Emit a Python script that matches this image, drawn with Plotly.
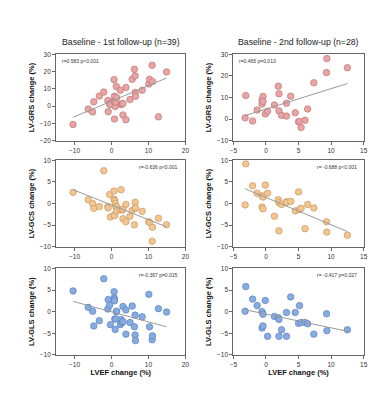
import numpy as np
import plotly.graph_objects as go

# ---------------- data ----------------
lvef_1st = [-10.4, -6.3, -5.1, -4.8, -3.3, -2.1, -1.0, -0.9, -0.5, -0.3,
            0.7, 0.7, 0.8, 0.8, 0.9, 1.0, 1.2, 1.3, 1.4, 2.4,
            2.6, 2.9, 3.1, 3.1, 3.9, 3.9, 5.0, 5.6, 6.2, 6.4,
            6.4, 6.5, 8.3, 10.1, 10.3, 11.0, 11.1, 12.7, 14.9]
grs_1st = [-10.6, -1.7, -3.4, 2.5, 5.8, 8.1, 3.2, -3.2, 1.1, 0.9,
           15.3, 3.0, 5.7, -7.5, 2.8, -0.2, 2.3, 11.3, 4.9, 9.2,
           0.9, 1.3, -5.1, 1.5, 10.8, -7.9, 3.8, 15.5, 21.3, 7.9,
           17.5, 5.7, 9.2, 12.8, 15.5, 23.6, 14.2, -6.2, 19.8]
gcs_1st = [2.6, 0.9, 0.0, -1.1, -0.7, 7.6, -0.7, -1.0, 2.1, -3.1,
           2.9, 1.0, -2.6, -2.8, 0.7, 0.1, -0.7, -0.7, -1.7, -1.4,
           3.2, -1.5, -3.5, -1.3, -0.2, -4.2, -2.9, -1.6, -4.9, 0.3,
           -1.1, -1.0, -1.8, -4.2, -4.4, -8.7, -5.5, -3.4, -4.9]
gls_1st = [4.8, 1.0, 0.1, -3.3, -2.1, 7.6, 0.6, 2.8, 1.5, -3.0,
           4.6, 3.2, 2.9, 2.5, -1.7, -4.1, -1.7, 0.0, 0.1, -3.0,
           -1.8, -2.5, 1.2, -2.3, 0.4, -5.2, -2.5, 1.3, -3.5, -0.8,
           -5.4, -6.7, -1.2, 4.0, -3.5, -6.5, -5.6, 0.7, -0.1]

lvef_2nd = [-3.1, -3.2, -2.05, -1.35, -0.6, -0.45, -0.6, -0.45, -0.1, 0.25,
            1.3, 1.9, 2.0, 2.0, 2.4, 3.15, 3.15, 3.8, 4.5, 5.0,
            5.15, 5.4, 6.0, 6.4, 7.35, 9.3, 9.35, 12.5]
grs_2nd = [10.9, 0.6, -0.9, 4.2, 8.8, 10.5, 7.0, 8.2, 2.4, 3.6,
           6.5, 15.2, 11.7, 3.8, 1.7, 7.3, 1.4, 10.6, 2.9, -1.2,
           -1.1, -3.9, -0.5, 4.7, 16.8, 21.5, 28.0, 23.8]
gcs_2nd = [9.2, -0.3, 4.1, 2.4, 1.8, 1.5, -0.8, -1.2, 4.3, 2.4,
           -2.9, 0.9, 0.2, -6.3, -0.2, 0.4, 0.3, 0.5, -1.7, 2.7,
           -1.4, -1.1, -5.8, -0.2, -1.0, -4.2, -6.6, -7.3]
gls_2nd = [5.8, 0.1, 2.9, 1.4, 0.0, -0.6, -3.8, -3.3, 2.6, -5.7,
           -1.1, -1.4, -1.8, -5.7, -4.2, -0.2, -5.7, 3.4, -0.2, -2.7,
           1.4, -2.5, -2.5, -2.8, -5.2, -0.5, -4.4, -4.2]

col_titles = ["Baseline - 1st follow-up (n=39)", "Baseline - 2nd follow-up (n=28)"]
row_titles = ["LV-GRS change (%)", "LV-GCS change (%)", "LV-GLS change (%)"]
x_title = "LVEF change (%)"
stats = [["r=0.583 p<0.001", "r=0.465 p=0.013"],
         ["r=-0.636 p<0.001", "r= -0.688 p<0.001"],
         ["r=-0.367 p=0.015", "r= -0.417 p=0.027"]]
x_ticks = [[-10, 0, 10, 20], [-5, 0, 5, 10, 15]]
x_ranges = [[-15, 20], [-5, 15]]
y_ticks = [[[-20, -10, 0, 10, 20, 30], [-10, 0, 10, 20, 30]],
           [[-10, -5, 0, 5, 10], [-10, -5, 0, 5, 10]],
           [[-10, -5, 0, 5, 10], [-10, -5, 0, 5, 10]]]

# ---------------- layout geometry ----------------
W, H = 391, 400
col_px = [(45, 177), (226, 359)]
row_px = [(43, 131), (151, 239), (261, 349)]
fills = ["#EBA3A3", "#F4C58F", "#86ACE2"]
edges = ["#B77A7A", "#C49A66", "#5C82BC"]

xs = [lvef_1st, lvef_2nd]
ys = [[grs_1st, grs_2nd], [gcs_1st, gcs_2nd], [gls_1st, gls_2nd]]

fig = go.Figure()
font = "Liberation Sans, Arial, sans-serif"
annotations = []
for r in range(3):
    for c in range(2):
        k = r * 2 + c + 1
        xa = "x" if k == 1 else f"x{k}"
        ya = "y" if k == 1 else f"y{k}"
        x = np.array(xs[c]); y = np.array(ys[r][c])
        fig.add_trace(go.Scatter(
            x=x, y=y, mode="markers", xaxis=xa, yaxis=ya, showlegend=False,
            marker=dict(size=6.5, color=fills[r], line=dict(color=edges[r], width=0.7))))
        m, b = np.polyfit(x, y, 1)
        lx = np.array([x.min(), x.max()])
        fig.add_trace(go.Scatter(
            x=lx, y=m * lx + b, mode="lines", xaxis=xa, yaxis=ya, showlegend=False,
            line=dict(color="#9a9a9a", width=1)))
        x0, x1 = col_px[c]; y0, y1 = row_px[r]
        axis_common = dict(showgrid=False, zeroline=False, showline=True, linecolor="#666",
                           linewidth=1, mirror=True, ticks="outside", ticklen=3,
                           tickcolor="#666", tickfont=dict(size=6.5, color="#333", family=font))
        xkey = "xaxis" if k == 1 else f"xaxis{k}"
        ykey = "yaxis" if k == 1 else f"yaxis{k}"
        xax = dict(axis_common, domain=[x0 / W, x1 / W], range=x_ranges[c],
                   tickvals=x_ticks[c], anchor=ya)
        if r == 2:
            xax["title"] = dict(text=x_title, font=dict(size=7.5, color="#111", family=font, weight="bold"), standoff=3)
        yax = dict(axis_common, domain=[1 - y1 / H, 1 - y0 / H],
                   range=[y_ticks[r][c][0], y_ticks[r][c][-1]], tickvals=y_ticks[r][c], anchor=xa,
                   title=dict(text=row_titles[r], font=dict(size=7.5, color="#111", family=font, weight="bold"), standoff=4))
        fig.update_layout({xkey: xax, ykey: yax})
        # stats annotation
        left = (r == 0)
        annotations.append(dict(
            text=stats[r][c], xref="paper", yref="paper", showarrow=False,
            x=(x0 + 4) / W if left else (x1 - 5) / W,
            xanchor="left" if left else "right",
            y=1 - (y0 + 7) / H, yanchor="middle",
            font=dict(size=5, color="#333", family=font)))
for c in range(2):
    x0, x1 = col_px[c]
    annotations.append(dict(
        text=col_titles[c], xref="paper", yref="paper", showarrow=False,
        x=(x0 + x1) / 2 / W, xanchor="center", y=1 - 31 / H, yanchor="middle",
        font=dict(size=8.7, color="#222", family=font)))

fig.update_layout(width=W, height=H, margin=dict(l=0, r=0, t=0, b=0),
                  paper_bgcolor="white", plot_bgcolor="white",
                  annotations=annotations, font=dict(family=font))
fig.write_html("out.html")
